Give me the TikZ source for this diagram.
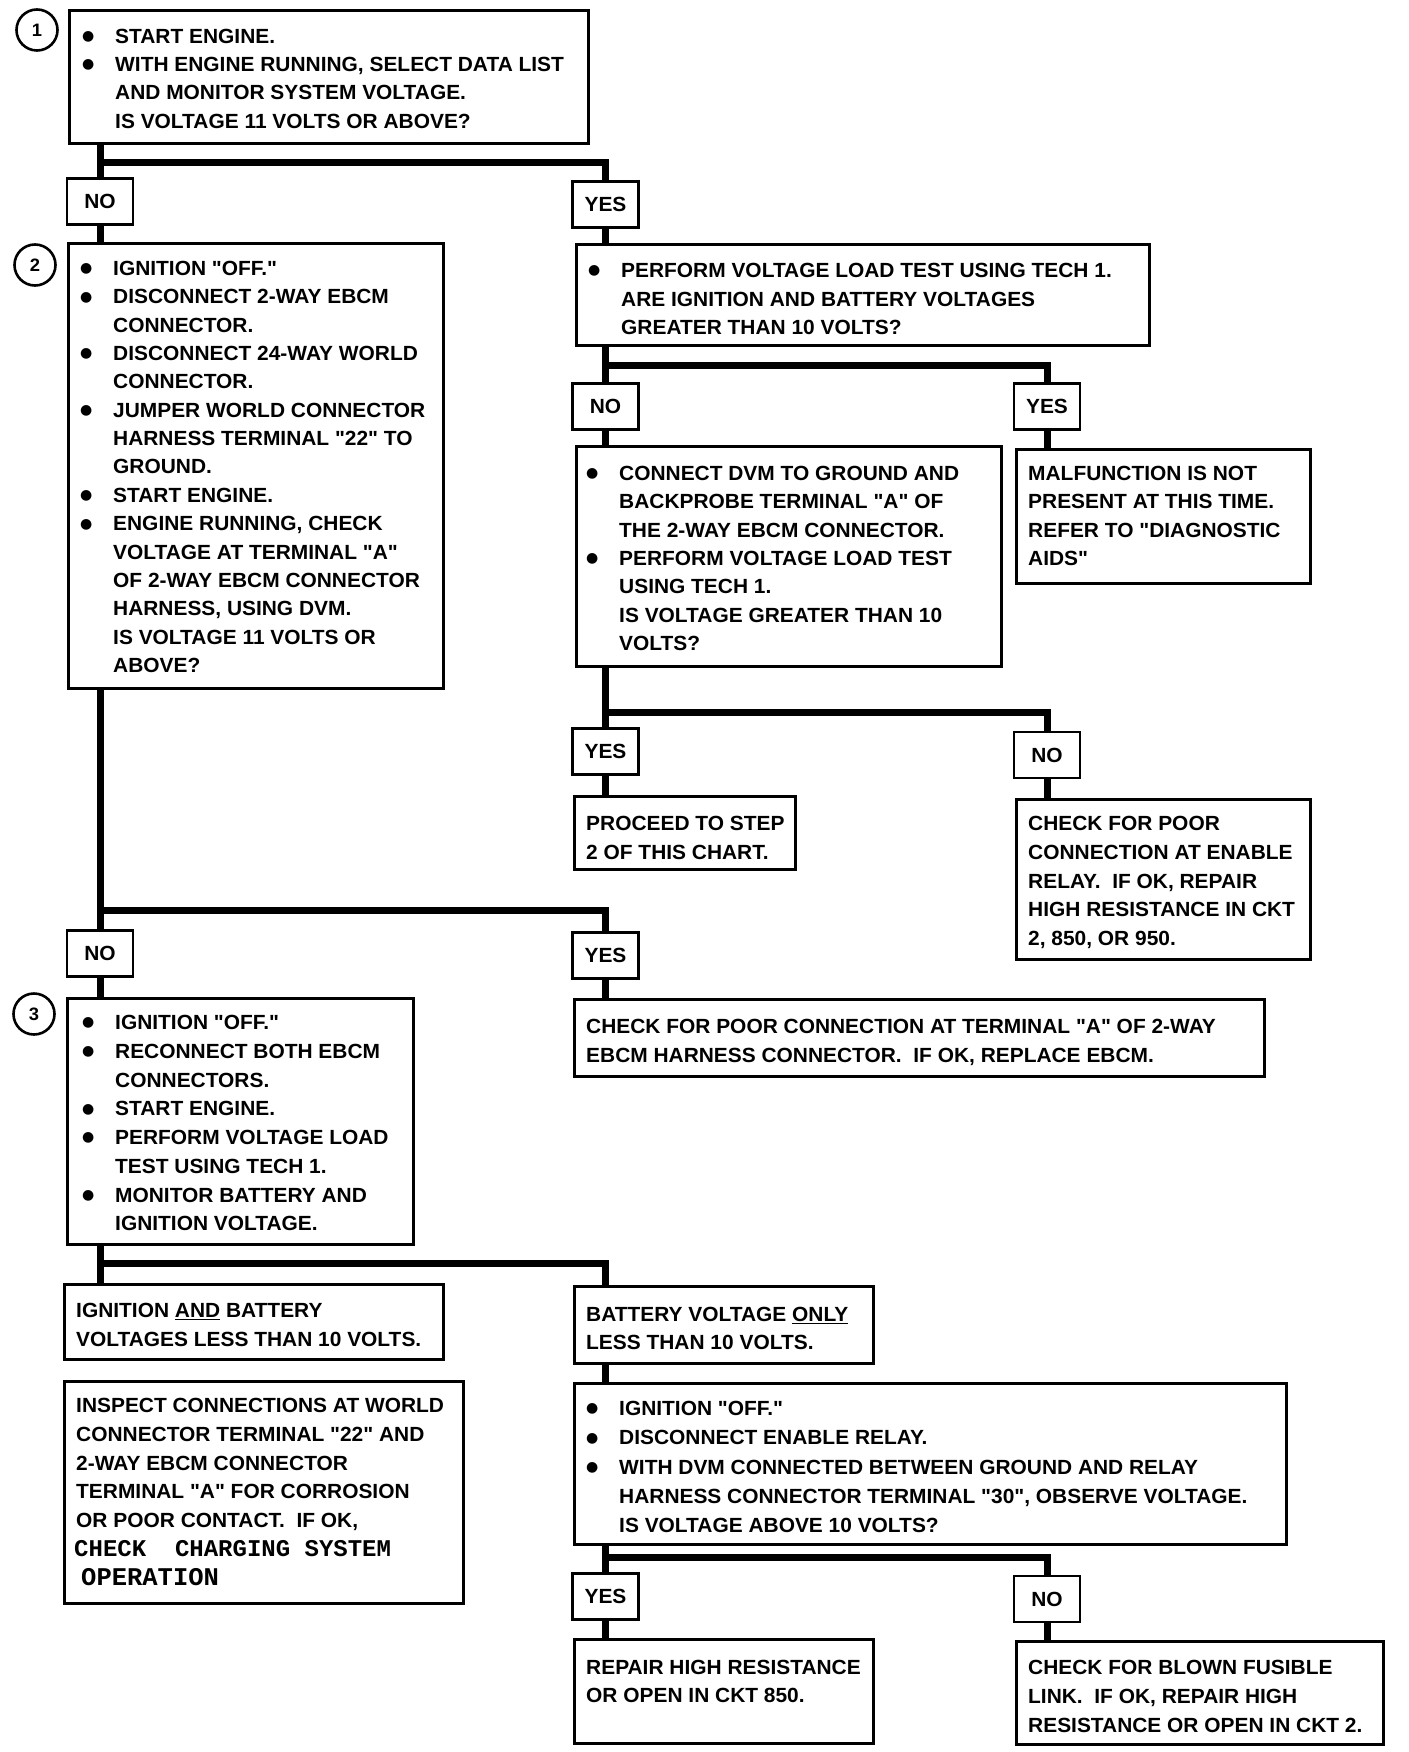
\documentclass[tikz,border=0pt]{standalone}
\usepackage{fontspec}
\newfontfamily\bodyf[FakeStretch=1.02]{Liberation Sans}
\newfontfamily\ttf{Liberation Mono}
\newfontfamily\symf{DejaVu Sans}
\newcommand{\bodytext}[1]{\bodyf\bfseries\fontsize{20.5}{#1}\selectfont}
\newcommand{\bulx}{\makebox[33pt][l]{\raisebox{2.6pt}{\symf\fontsize{14}{14}\selectfont ●}}}
\newcommand{\indx}{\hspace*{33pt}}
\newcommand{\twsp}{\ \ }
\begin{document}
\begin{tikzpicture}[x=1pt,y=-1pt,
  bx/.style={draw, line width=2.8pt, anchor=north west, inner sep=0pt},
  lbl/.style={draw, line width=2.8pt, minimum width=66pt, minimum height=46pt, inner sep=0pt, font=\bodytext{28}},
  txt/.style={anchor=north west, inner sep=0pt, align=left, font=\bodytext{28}},
  conn/.style={line width=7pt},
  num/.style={circle, draw, line width=2.6pt, minimum size=41pt, inner sep=0pt, font=\bodyf\bfseries\fontsize{18}{18}\selectfont}]
\fill[white] (0,0) rectangle (1408,1752);
\useasboundingbox (0,0) rectangle (1408,1752);

% step numbers
\node[num] (c1) at (37,30) {1};
\node[num] (c2) at (35,265) {2};
\node[num] (c3) at (34,1014) {3};

% boxes
\node[bx, minimum width=519pt, minimum height=133pt] (box1) at (68,9) {};
\node[bx, minimum width=375pt, minimum height=445pt] (box2) at (67,242) {};
\node[bx, minimum width=573pt, minimum height=101pt] (box1R) at (575,243) {};
\node[bx, minimum width=425pt, minimum height=220pt] (box3) at (575,445) {};
\node[bx, minimum width=294pt, minimum height=134pt] (malf) at (1015,448) {};
\node[bx, minimum width=221pt, minimum height=73pt] (proceed) at (573,795) {};
\node[bx, minimum width=294pt, minimum height=160pt] (checkpoor) at (1015,798) {};
\node[bx, minimum width=346pt, minimum height=246pt] (box4) at (66,997) {};
\node[bx, minimum width=690pt, minimum height=77pt] (checkA) at (573,998) {};
\node[bx, minimum width=379pt, minimum height=75pt] (ignbat) at (63,1283) {};
\node[bx, minimum width=299pt, minimum height=77pt] (batonly) at (573,1285) {};
\node[bx, minimum width=399pt, minimum height=222pt] (inspect) at (63,1380) {};
\node[bx, minimum width=712pt, minimum height=161pt] (relay) at (573,1382) {};
\node[bx, minimum width=299pt, minimum height=104pt] (repair) at (573,1638) {};
\node[bx, minimum width=367pt, minimum height=103pt] (blown) at (1015,1640) {};

% labels
\node[lbl] (no1) at (100,201.5) {NO};
\node[lbl] (yes1) at (605.5,204.5) {YES};
\node[lbl] (no2) at (605.5,406.5) {NO};
\node[lbl] (yes2) at (1047,406.5) {YES};
\node[lbl] (yes3) at (605.5,751.5) {YES};
\node[lbl] (no3) at (1047,755) {NO};
\node[lbl] (no4) at (100,953.5) {NO};
\node[lbl] (yes4) at (605.5,955.5) {YES};
\node[lbl] (yes5) at (605.5,1596.5) {YES};
\node[lbl] (no5) at (1047,1599) {NO};

% texts
\node[txt, font=\bodytext{28.3}] (box1t) at (82,28.7) {%
\bulx START ENGINE.\\
\bulx WITH ENGINE RUNNING, SELECT DATA LIST\\
\indx AND MONITOR SYSTEM VOLTAGE.\\
\indx IS VOLTAGE 11 VOLTS OR ABOVE?};

\node[txt, font=\bodytext{28.35}] (box2t) at (80,261) {%
\bulx IGNITION "OFF."\\
\bulx DISCONNECT 2-WAY EBCM\\
\indx CONNECTOR.\\
\bulx DISCONNECT 24-WAY WORLD\\
\indx CONNECTOR.\\
\bulx JUMPER WORLD CONNECTOR\\
\indx HARNESS TERMINAL "22" TO\\
\indx GROUND.\\
\bulx START ENGINE.\\
\bulx ENGINE RUNNING, CHECK\\
\indx VOLTAGE AT TERMINAL "A"\\
\indx OF 2-WAY EBCM CONNECTOR\\
\indx HARNESS, USING DVM.\\
\indx IS VOLTAGE 11 VOLTS OR\\
\indx ABOVE?};

\node[txt, font=\bodytext{28.5}] (box1Rt) at (588,263) {%
\bulx PERFORM VOLTAGE LOAD TEST USING TECH 1.\\
\indx ARE IGNITION AND BATTERY VOLTAGES\\
\indx GREATER THAN 10 VOLTS?};

\node[txt, font=\bodytext{28.3}] (box3t) at (586,466) {%
\bulx CONNECT DVM TO GROUND AND\\
\indx BACKPROBE TERMINAL "A" OF\\
\indx THE 2-WAY EBCM CONNECTOR.\\
\bulx PERFORM VOLTAGE LOAD TEST\\
\indx USING TECH 1.\\
\indx IS VOLTAGE GREATER THAN 10\\
\indx VOLTS?};

\node[txt, font=\bodytext{28.3}] (malft) at (1028,466) {%
MALFUNCTION IS NOT\\
PRESENT AT THIS TIME.\\
REFER TO "DIAGNOSTIC\\
AIDS"};

\node[txt, font=\bodytext{29}] (proceedt) at (586,816) {%
PROCEED TO STEP\\
2 OF THIS CHART.};

\node[txt, font=\bodytext{28.8}] (checkpoort) at (1028,816) {%
CHECK FOR POOR\\
CONNECTION AT ENABLE\\
RELAY.\twsp IF OK, REPAIR\\
HIGH RESISTANCE IN CKT\\
2, 850, OR 950.};

\node[txt, font=\bodytext{28.75}] (box4t) at (82,1015) {%
\bulx IGNITION "OFF."\\
\bulx RECONNECT BOTH EBCM\\
\indx CONNECTORS.\\
\bulx START ENGINE.\\
\bulx PERFORM VOLTAGE LOAD\\
\indx TEST USING TECH 1.\\
\bulx MONITOR BATTERY AND\\
\indx IGNITION VOLTAGE.};

\node[txt, font=\bodytext{29}] (checkAt) at (586,1019) {%
CHECK FOR POOR CONNECTION AT TERMINAL "A" OF 2-WAY\\
EBCM HARNESS CONNECTOR.\twsp IF OK, REPLACE EBCM.};

\node[txt, font=\bodytext{29}] (ignbatt) at (76,1303) {%
IGNITION \underline{AND} BATTERY\\
VOLTAGES LESS THAN 10 VOLTS.};

\node[txt, font=\bodytext{28}] (batonlyt) at (586,1307) {%
BATTERY VOLTAGE \underline{ONLY}\\
LESS THAN 10 VOLTS.};

\node[txt, font=\bodytext{28.8}] (inspectt) at (76,1398) {%
INSPECT CONNECTIONS AT WORLD\\
CONNECTOR TERMINAL "22" AND\\
2-WAY EBCM CONNECTOR\\
TERMINAL "A" FOR CORROSION\\
OR POOR CONTACT.\twsp IF OK,\\
{\ttf\bfseries\fontsize{24}{28.8}\selectfont\hspace*{-2pt}CHECK\twsp CHARGING SYSTEM}\\
{\ttf\bfseries\fontsize{25.5}{28.8}\selectfont\hspace*{5pt}OPERATION}};

\node[txt, font=\bodytext{29.3}] (relayt) at (586,1401) {%
\bulx IGNITION "OFF."\\
\bulx DISCONNECT ENABLE RELAY.\\
\bulx WITH DVM CONNECTED BETWEEN GROUND AND RELAY\\
\indx HARNESS CONNECTOR TERMINAL "30", OBSERVE VOLTAGE.\\
\indx IS VOLTAGE ABOVE 10 VOLTS?};

\node[txt, font=\bodytext{28}] (repairt) at (586,1660) {%
REPAIR HIGH RESISTANCE\\
OR OPEN IN CKT 850.};

\node[txt, font=\bodytext{29}] (blownt) at (1028,1660) {%
CHECK FOR BLOWN FUSIBLE\\
LINK.\twsp IF OK, REPAIR HIGH\\
RESISTANCE OR OPEN IN CKT 2.};

% connectors
\coordinate (j1) at (100,163);
\coordinate (j2) at (605.5,365);
\coordinate (j3) at (605.5,712);
\coordinate (j4) at (100,910);
\coordinate (j5) at (100,1263);
\coordinate (j6) at (605.5,1557);

\draw[conn] (no1.north |- box1.south) -- (no1.north);
\draw[conn] (j1) -| (yes1.north);
\draw[conn] (no1.south) -- (no1.south |- box2.north);
\draw[conn] (yes1.south) -- (yes1.south |- box1R.north);

\draw[conn] (no2.north |- box1R.south) -- (no2.north);
\draw[conn] (j2) -| (yes2.north);
\draw[conn] (no2.south) -- (no2.south |- box3.north);
\draw[conn] (yes2.south) -- (yes2.south |- malf.north);

\draw[conn] (yes3.north |- box3.south) -- (yes3.north);
\draw[conn] (j3) -| (no3.north);
\draw[conn] (yes3.south) -- (yes3.south |- proceed.north);
\draw[conn] (no3.south) -- (no3.south |- checkpoor.north);

\draw[conn] (no4.north |- box2.south) -- (no4.north);
\draw[conn] (j4) -| (yes4.north);
\draw[conn] (no4.south) -- (no4.south |- box4.north);
\draw[conn] (yes4.south) -- (yes4.south |- checkA.north);

\draw[conn] (no4.south |- box4.south) -- (no4.south |- ignbat.north);
\draw[conn] (j5) -| (yes5.north |- batonly.north);
\draw[conn] (yes5.north |- batonly.south) -- (yes5.north |- relay.north);

\draw[conn] (yes5.north |- relay.south) -- (yes5.north);
\draw[conn] (j6) -| (no5.north);
\draw[conn] (yes5.south) -- (yes5.south |- repair.north);
\draw[conn] (no5.south) -- (no5.south |- blown.north);
\end{tikzpicture}
\end{document}
